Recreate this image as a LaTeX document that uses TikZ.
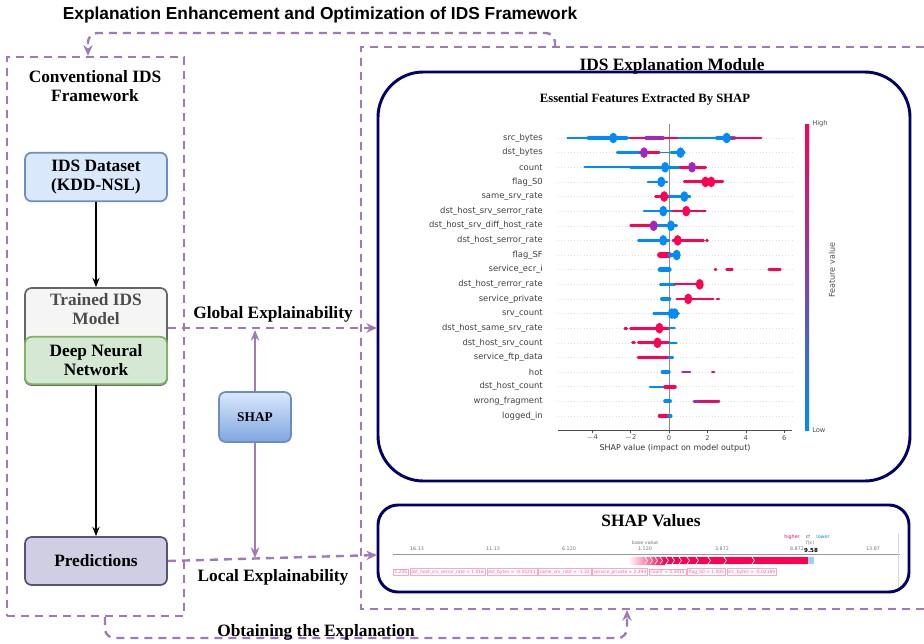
\documentclass[tikz,border=0pt]{standalone}
\usepackage{fontspec}
\setmainfont{Liberation Serif}
\newfontfamily\titlefont{Liberation Sans}
\newfontfamily\plotfont{DejaVu Sans}
\usetikzlibrary{arrows.meta,positioning,calc}
\definecolor{fbPurple}{RGB}{160,122,182}
\definecolor{modNavy}{RGB}{0,0,102}
\definecolor{dsFill}{HTML}{DAE8FC}
\definecolor{dsLine}{HTML}{6C8EBF}
\definecolor{mdlFill}{HTML}{F5F5F5}
\definecolor{mdlLine}{HTML}{666666}
\definecolor{dnnFill}{HTML}{D5E8D4}
\definecolor{dnnLine}{HTML}{82B366}
\definecolor{prdFill}{HTML}{D0CEE2}
\definecolor{prdLine}{HTML}{56517E}
\definecolor{shapBlue}{RGB}{0,139,251}
\definecolor{shapRed}{RGB}{255,0,82}
\definecolor{shapMix}{RGB}{160,40,190}
\definecolor{shapTop}{HTML}{DAE8FC}
\definecolor{shapBot}{HTML}{7EA6E0}

\tikzset{
  idsbox/.style={draw, rounded corners=5pt, line width=1.3pt, minimum width=106.5pt,
    minimum height=36.5pt, align=center, font=\fontsize{13}{14.3}\selectfont\bfseries, inner sep=0pt},
  fbline/.style={fbPurple, line width=1.8pt, dash pattern=on 6pt off 4.5pt},
  fbtip/.style={-{Stealth[length=8pt,width=7pt]}},
  flowarrow/.style={-{Stealth[length=7pt,width=5.5pt]}, line width=1pt, black},
  shaparrow/.style={-{Stealth[length=8pt,width=6.5pt]}, line width=1.1pt, fbPurple},
  lbl/.style={font=\fontsize{13}{14.3}\selectfont\bfseries, align=center, inner sep=0pt},
  featlbl/.style={font=\plotfont\fontsize{6.3}{7}\selectfont, text=black!75, anchor=east, inner sep=0pt},
  ticklbl/.style={font=\plotfont\fontsize{5}{6}\selectfont, text=black!70, inner sep=0pt},
  forcelbl/.style={font=\plotfont\fontsize{3.3}{4}\selectfont, text=shapRed!65, draw=shapRed!35,
    line width=0.3pt, inner sep=1pt},
  forcetick/.style={font=\plotfont\fontsize{3.6}{4}\selectfont, text=black!55, inner sep=0pt},
}

\begin{document}
\begin{tikzpicture}[x=0.75pt,y=-0.75pt]
    \useasboundingbox (0,0) rectangle (924,643);

    % heading
    \node[font=\titlefont\fontsize{13}{15}\selectfont\bfseries] (maintitle) at (320,15)
        {Explanation Enhancement and Optimization of IDS Framework};

    % conventional framework
    \node[fbline, draw, minimum width=132.75pt, minimum height=419.25pt, inner sep=0pt] (convframe) at (95.5,336.5) {};
    \node[lbl] (convtitle) at (95,86) {Conventional IDS\\Framework};
    \node[idsbox, fill=dsFill, draw=dsLine] (dataset) at (96,177) {IDS Dataset\\(KDD-NSL)};
    \node[idsbox, fill=mdlFill, draw=mdlLine, minimum height=72.75pt] (trained) at (96,336.5) {};
    \node[lbl, text=black!70] (trainedtxt) at (96,309) {Trained IDS\\Model};
    \node[idsbox, fill=dnnFill, draw=dnnLine, minimum height=35.5pt] (dnn) at (96,360.5) {Deep Neural\\Network};
    \node[idsbox, fill=prdFill, draw=prdLine, minimum height=36pt] (pred) at (96,561) {Predictions};

    \draw[flowarrow] (dataset) -- (trained);
    \draw[flowarrow] (dnn) -- (pred);

    % explanation module frame
    \draw[fbline] (924,47) -- (361,47) -- (361,609) -- (924,609);
    \node[lbl] (modtitle) at (672,66) {IDS Explanation Module};
    \node[draw=modNavy, line width=2.2pt, rounded corners=34pt, minimum width=399pt,
        minimum height=306.75pt, inner sep=0pt] (expbox) at (644,276.5) {};
    \node[draw=modNavy, line width=2.2pt, rounded corners=15pt, minimum width=398.25pt,
        minimum height=65.25pt, inner sep=0pt] (valbox) at (643.5,548.5) {};

    % shap and the two explanation paths
    \node[draw=dsLine, line width=1.3pt, rounded corners=5pt, top color=shapTop, bottom color=shapBot,
        minimum width=54pt, minimum height=37.5pt, font=\fontsize{10}{12}\selectfont\bfseries] (shap) at (255,417) {SHAP};
    \coordinate (glbtip) at (377,328);
    \coordinate (loctip) at (377,555);
    \draw[fbline, fbtip] (trained.east |- glbtip) -- (glbtip);
    \draw[fbline, fbtip] (pred.east) -- (loctip);
    \draw[shaparrow] (shap.north) -- (shap.north |- 0,330);
    \draw[shaparrow] (shap.south) -- (shap.south |- 0,558);
    \node[lbl] (globlbl) at (273,314) {Global Explainability};
    \node[lbl] (loclbl) at (273,577) {Local Explainability};

    % feedback loops
    \coordinate (fbtop) at (555,47);
    \coordinate (fbbot) at (627,610);
    \draw[fbline, fbtip, rounded corners=7pt] (fbtop) -- (555,33) -- (88,33) -- (convframe.north -| 88,0);
    \draw[fbline, fbtip, rounded corners=7pt] (convframe.south -| 105,0) -- (105,638) -- (627,638) -- (fbbot);
    \node[lbl] (obtlbl) at (316,632) {Obtaining the Explanation};

    % summary plot
    \node[font=\fontsize{9.5}{11}\selectfont\bfseries] (plottitle) at (645,99) {Essential Features Extracted By SHAP};
    \foreach \r/\name in {1/src\_bytes,2/dst\_bytes,3/count,4/flag\_S0,5/same\_srv\_rate,
        6/dst\_host\_srv\_serror\_rate,7/dst\_host\_srv\_diff\_host\_rate,8/dst\_host\_serror\_rate,
        9/flag\_SF,10/service\_ecr\_i,11/dst\_host\_rerror\_rate,12/service\_private,13/srv\_count,
        14/dst\_host\_same\_srv\_rate,15/dst\_host\_srv\_count,16/service\_ftp\_data,17/hot,
        18/dst\_host\_count,19/wrong\_fragment,20/logged\_in}{
      \node[featlbl] (feat\r) at (543,{138+14.63*(\r-1)}) {\name};
      \draw[black!12, dotted] (558,{138+14.63*(\r-1)}) -- (792,{138+14.63*(\r-1)});
    }
    \draw[black!45] (669,124) -- (669,430);
    \foreach \r/\a/\b/\c/\w in {
        1/-5.3/-2.0/shapBlue/1.2, 1/-4.2/-2.2/shapBlue/2.4, 1/-2.0/0.5/shapRed/2, 1/-1.2/-0.3/shapMix/2.4,
        1/0.5/2.5/shapBlue/1.4, 1/2.5/3.4/shapBlue/3, 1/3.1/4.8/shapRed/2,
        2/-2.7/-1.5/shapBlue/2, 2/-1.5/-0.5/shapRed/2, 2/-0.5/0.1/shapBlue/1.2, 2/0.1/0.8/shapBlue/2,
        3/-4.4/-0.8/shapBlue/1.6, 3/-2.0/0/shapBlue/2.6, 3/0/0.6/shapBlue/2, 3/0.6/1.9/shapRed/2.4,
        4/-1.1/-0.1/shapBlue/2, 4/0.8/2.8/shapRed/2.2,
        5/-0.7/0/shapRed/2, 5/0/1.1/shapBlue/1.6,
        6/-1.3/0.2/shapBlue/1.8, 6/0.2/1.9/shapRed/1.8,
        7/-2.0/-0.6/shapRed/2, 7/-0.6/0.4/shapBlue/2,
        8/-1.6/0/shapBlue/1.8, 8/0.2/1.8/shapRed/1.8, 8/1.95/2.0/shapRed/2,
        9/-0.45/0/shapRed/5, 9/0/0.5/shapBlue/2.4,
        10/-0.45/0/shapBlue/4, 10/2.4/2.45/shapRed/2, 10/3.0/3.3/shapRed/2, 10/5.2/5.8/shapRed/2,
        11/-0.45/0.3/shapBlue/2.4, 11/0.3/1.7/shapRed/1.6,
        12/-0.35/0/shapBlue/3.5, 12/0.4/2.3/shapRed/2, 12/2.5/2.6/shapRed/2,
        13/-0.8/0.5/shapBlue/2,
        14/-2.3/-2.2/shapRed/2, 14/-2.0/0/shapRed/2.2, 14/0/0.3/shapBlue/1.8,
        15/-1.9/-1.8/shapRed/2, 15/-1.6/0/shapRed/2.2, 15/0/0.4/shapBlue/1.6,
        16/-1.6/0/shapRed/2.6, 16/0/0.2/shapBlue/2,
        17/-0.35/0/shapBlue/2.4, 17/0.7/1.1/shapMix/2, 17/2.25/2.35/shapRed/2,
        18/-1.0/0/shapBlue/1.4, 18/-0.2/0.3/shapRed/3,
        19/-0.2/0.05/shapBlue/3, 19/1.3/2.6/shapMix/2, 19/1.6/2.6/shapRed/1.4,
        20/-0.5/0/shapRed/2.4, 20/0/0.1/shapBlue/2.4}{
      \draw[color=\c, line width=\w pt, line cap=round]
          ({669+19.2*\a},{138+14.63*(\r-1)}) -- ({669+19.2*\b},{138+14.63*(\r-1)});
    }
    \foreach \r/\v/\c in {1/-2.9/shapBlue, 1/3.0/shapBlue, 2/-1.3/shapMix, 2/0.6/shapBlue,
        3/-0.2/shapBlue, 3/1.2/shapMix, 4/-0.4/shapBlue, 4/1.9/shapRed, 4/2.2/shapRed,
        5/-0.25/shapRed, 5/0.8/shapBlue, 6/-0.3/shapBlue, 6/0.9/shapRed, 7/-0.8/shapMix,
        7/0.1/shapBlue, 8/-0.3/shapBlue, 8/0.45/shapRed, 9/0.4/shapBlue, 11/1.6/shapRed,
        12/1.0/shapRed, 13/0.15/shapBlue, 13/0.3/shapBlue, 14/-0.5/shapRed, 15/-0.6/shapRed}{
      \fill[color=\c] ({669+19.2*\v},{138+14.63*(\r-1)}) ellipse [x radius=3pt, y radius=4pt];
    }

    % axis and colour bar
    \draw[black!70] (558,430) -- (792,430);
    \foreach \v in {-4,-2,0,2,4,6}{
      \draw[black!70] ({669+19.2*\v},430) -- ({669+19.2*\v},433);
      \node[ticklbl] (tick\v) at ({669+19.2*\v},438) {\ifnum\v<0 $-$\the\numexpr-\v\relax\else\v\fi};
    }
    \node[font=\plotfont\fontsize{6}{7}\selectfont, text=black!80] (xlabel) at (675,448)
        {SHAP value (impact on model output)};
    \shade[top color=shapRed, bottom color=shapBlue] (805,124) rectangle (809,430);
    \node[ticklbl, anchor=west] (cbhigh) at (812,124) {High};
    \node[ticklbl, anchor=west] (cblow) at (812,430) {Low};
    \node[ticklbl, rotate=90, font=\plotfont\fontsize{6}{7}\selectfont] (cblabel) at (832,270) {Feature value};

    % force plot
    \node[lbl] (valtitle) at (651,521) {SHAP Values};
    \draw[black!40, line width=0.4pt] (393,554) -- (900,554);
    \draw[black!15, line width=0.4pt] (898,533) -- (898,587);
    \foreach \x/\t in {417/16.13,493/11.13,569/6.120,645/1.120,722/3.872,797/8.872,873/13.87}{
      \node[forcetick] (ft\x) at (\x,549) {\t};
    }
    \node[forcetick] (baselbl) at (645,543) {base value};
    \node[forcetick] (fxlbl) at (810,543) {f(x)};
    \node[font=\plotfont\fontsize{4.2}{5}\selectfont\bfseries, inner sep=0pt, fill=white] (fxval) at (811,550) {9.58};
    \node[forcetick, text=shapRed] (higher) at (792,537) {higher};
    \node[forcetick, text=black!50, font=\plotfont\fontsize{4}{4}\selectfont] (hlarrow) at (808,537) {⇄};
    \node[forcetick, text=shapBlue] (lower) at (823,537) {lower};
    \shade[left color=white, right color=shapRed] (628,557) rectangle (665,564);
    \fill[shapRed] (665,557) rectangle (808,564);
    \fill[shapBlue!40] (808,557) rectangle (814,564);
    \foreach \x in {645,650,655,660,666,672,679,687,696,708,724,752}{
      \draw[white, line width=0.5pt] (\x,557) -- ({\x+2.5},560.5) -- (\x,564);
    }
    \node[forcelbl, anchor=west] (fv1) at (393,572) {1.235};
    \node[forcelbl, right=0.8pt of fv1] (fv2) {dst\_host\_srv\_serror\_rate = 1.516};
    \node[forcelbl, right=0.8pt of fv2] (fv3) {dst\_bytes = -0.05231};
    \node[forcelbl, right=0.8pt of fv3] (fv4) {same\_srv\_rate = -1.32};
    \node[forcelbl, right=0.8pt of fv4] (fv5) {service\_private = 2.394};
    \node[forcelbl, right=0.8pt of fv5] (fv6) {count = 0.3415};
    \node[forcelbl, right=0.8pt of fv6] (fv7) {flag\_S0 = 1.505};
    \node[forcelbl, right=0.8pt of fv7] (fv8) {src\_bytes = -0.02169};
\end{tikzpicture}
\end{document}
